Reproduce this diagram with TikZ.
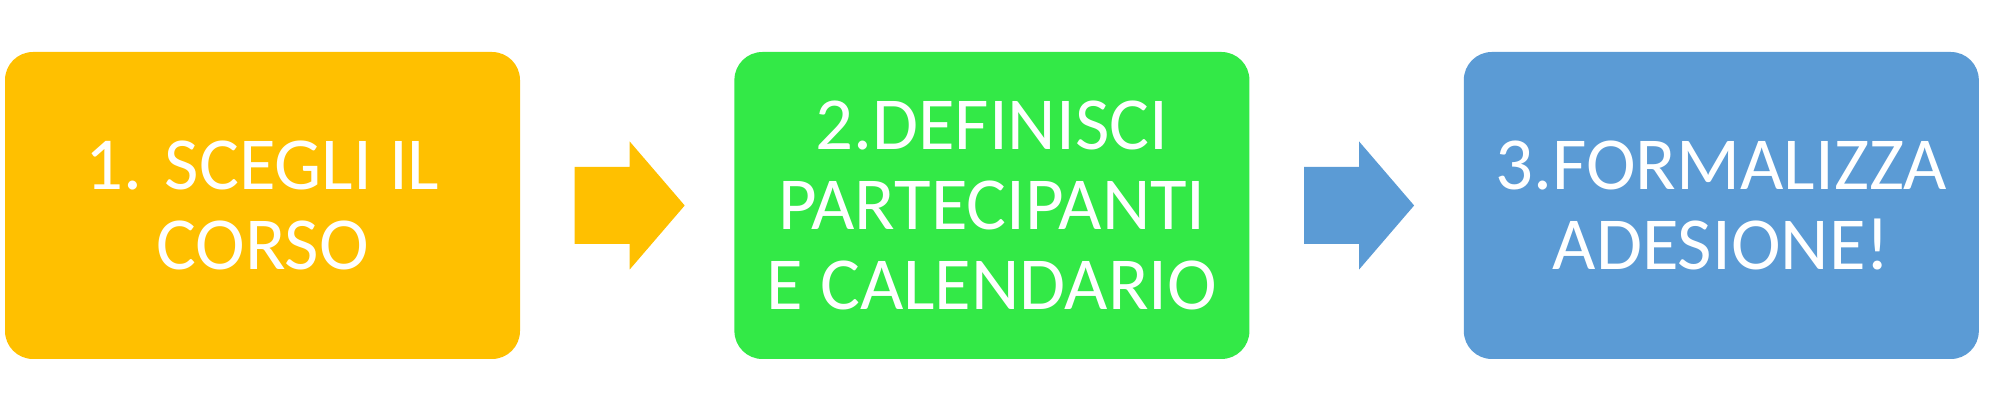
\documentclass[tikz,border=0pt]{standalone}
\usepackage{fontspec}
\setmainfont{Carlito}
\usetikzlibrary{calc, positioning}

\definecolor{boxGold}{HTML}{FFC000}
\definecolor{boxGreen}{HTML}{33E947}
\definecolor{boxBlue}{HTML}{5B9BD5}

\tikzset{
  stepbox/.style={rounded corners=0.28cm, minimum width=5.15cm, minimum height=3.07cm,
    inner sep=0pt, text=white, align=center,
    font=\fontsize{21.3}{22.8}\selectfont}
}

\begin{document}
\begin{tikzpicture}

\useasboundingbox (0,0) rectangle (20.03,4.10);

% The three steps
\node[stepbox, fill=boxGold] (box1) at (2.625,2.045) {1. SCEGLI IL\\CORSO};
\node[stepbox, fill=boxGreen, right=2.13cm of box1] (box2) {2.DEFINISCI\\PARTECIPANTI\\E CALENDARIO};
\node[stepbox, fill=boxBlue, right=2.13cm of box2] (box3) {3.FORMALIZZA\\ADESIONE!};

% Block arrows between the boxes
\coordinate (arrowOne) at ($(box1.east)+(0.54,0)$); % start of the first arrow shaft
\coordinate (arrowTwo) at ($(box2.east)+(0.54,0)$); % start of the second arrow shaft

\fill[boxGold] ($(arrowOne)+(0,0.385)$) -- ($(arrowOne)+(0.55,0.385)$)
    -- ($(arrowOne)+(0.55,0.64)$) -- ($(arrowOne)+(1.10,0)$)
    -- ($(arrowOne)+(0.55,-0.64)$) -- ($(arrowOne)+(0.55,-0.385)$)
    -- ($(arrowOne)+(0,-0.385)$) -- cycle;

\fill[boxBlue] ($(arrowTwo)+(0,0.385)$) -- ($(arrowTwo)+(0.55,0.385)$)
    -- ($(arrowTwo)+(0.55,0.64)$) -- ($(arrowTwo)+(1.10,0)$)
    -- ($(arrowTwo)+(0.55,-0.64)$) -- ($(arrowTwo)+(0.55,-0.385)$)
    -- ($(arrowTwo)+(0,-0.385)$) -- cycle;

\end{tikzpicture}
\end{document}
